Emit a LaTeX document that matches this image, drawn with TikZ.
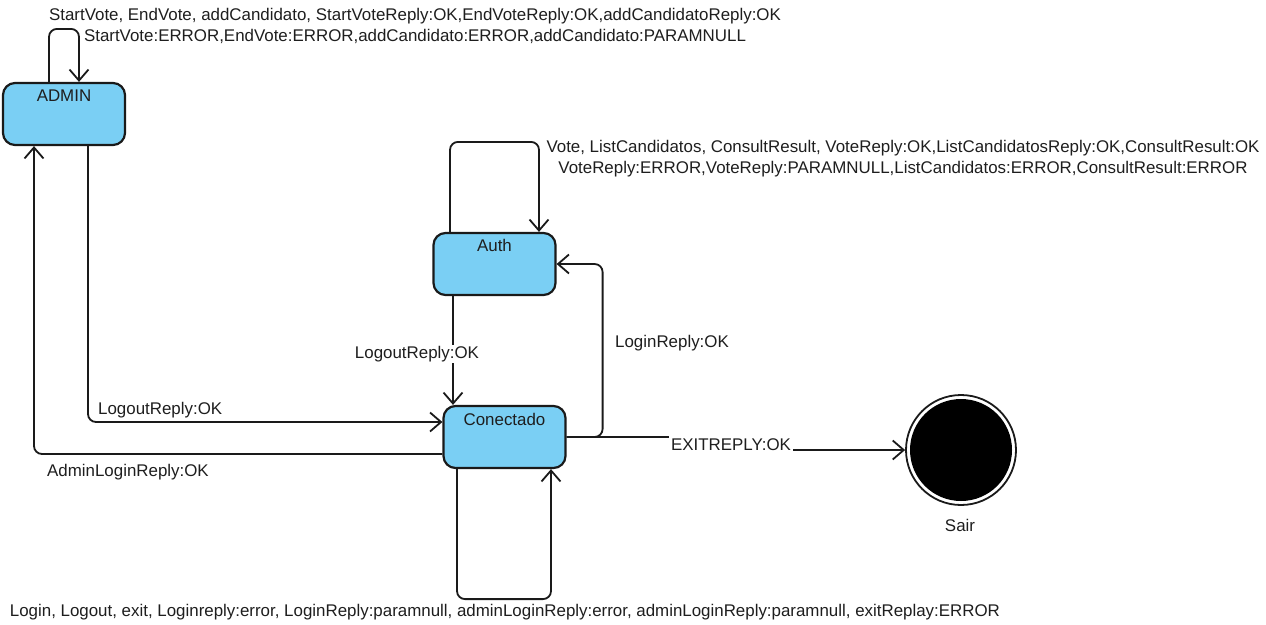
\documentclass[tikz,border=0pt]{standalone}
\usepackage{fontspec}
\setmainfont{Liberation Sans}
\usetikzlibrary{arrows.meta,calc}
\definecolor{statefill}{RGB}{122,207,244}
\definecolor{linec}{RGB}{26,26,26}
\definecolor{txtc}{RGB}{30,30,30}
\begin{document}
\begin{tikzpicture}[x=1pt,y=-1pt,
  lbl/.style={text=txtc,inner sep=0pt,font=\fontsize{16.9}{21}\selectfont},
  state/.style={draw=linec,fill=statefill,line width=2.2pt,rounded corners=12pt,minimum width=122pt,minimum height=62pt,inner sep=0pt},
  edge/.style={draw=linec,line width=1.8pt,rounded corners=8pt,-{Straight Barb[length=11pt,width=19pt,line width=1.8pt]}}
]
\useasboundingbox (0,0) rectangle (1266,624);

% states
\node[state,label={[lbl,anchor=north,yshift=-8pt]north:ADMIN}] (admin) at (64,114) {};
\node[state,label={[lbl,anchor=north,yshift=-7.5pt]north:Auth}] (auth) at (494.5,264) {};
\node[state,label={[lbl,anchor=north,yshift=-8pt]north:Conectado}] (conectado) at (504.5,437) {};
\node[circle,draw=linec,line width=1.8pt,minimum size=110pt,inner sep=0pt,fill=white,
  path picture={\fill[black] (path picture bounding box.center) circle (51pt);}] (sair) at (961,450) {};
\node[lbl,anchor=base] (sairtxt) at (960,531) {Sair};

% ADMIN self loop
\draw[edge] ([xshift=-15pt]admin.north) -- ++(0,-53) -| ([xshift=15pt]admin.north);
\node[lbl,align=center] (adminloop) at (415,26) {StartVote, EndVote, addCandidato, StartVoteReply:OK,EndVoteReply:OK,addCandidatoReply:OK\\StartVote:ERROR,EndVote:ERROR,addCandidato:ERROR,addCandidato:PARAMNULL};

% ADMIN -> Conectado
\draw[edge] ([xshift=24pt]admin.south) |- ([yshift=15pt]conectado.west);
\node[lbl,anchor=base west] (l1) at (98,414) {LogoutReply:OK};

% Conectado -> ADMIN
\draw[edge] ([yshift=-17pt]conectado.west) -| ([xshift=-30pt]admin.south);
\node[lbl,anchor=base west] (l2) at (47,476) {AdminLoginReply:OK};

% Auth self loop
\draw[edge] ([xshift=-44.5pt]auth.north) -- ++(0,-90) -| ([xshift=44.5pt]auth.north);
\node[lbl,align=center] (authloop) at (903,158.6) {Vote, ListCandidatos, ConsultResult, VoteReply:OK,ListCandidatosReply:OK,ConsultResult:OK\\VoteReply:ERROR,VoteReply:PARAMNULL,ListCandidatos:ERROR,ConsultResult:ERROR};

% Auth -> Conectado
\draw[edge] ([xshift=-41.5pt]auth.south) -- ([xshift=-51.5pt]conectado.north);
\node[lbl,anchor=base,fill=white,inner sep=1pt] (l3) at (417,358) {LogoutReply:OK};

% Conectado -> Auth
\draw[edge] (conectado.east) -- ++(36,0) |- (auth.east);
\node[lbl,anchor=base] (l4) at (672,347) {LoginReply:OK};

% Conectado -> Sair
\draw[edge] (conectado.east) -- ++(165,0) coordinate (ex) |- (sair.west);
\node[lbl,anchor=base,fill=white,inner sep=2pt] (l5) at (731,450) {EXITREPLY:OK};

% Conectado self loop
\draw[edge] ([xshift=-47.5pt]conectado.south) -- ++(0,130) -| ([xshift=46.5pt]conectado.south);
\node[lbl,anchor=base] (conloop) at (505,616) {Login, Logout, exit, Loginreply:error, LoginReply:paramnull, adminLoginReply:error, adminLoginReply:paramnull, exitReplay:ERROR};

\end{tikzpicture}
\end{document}
